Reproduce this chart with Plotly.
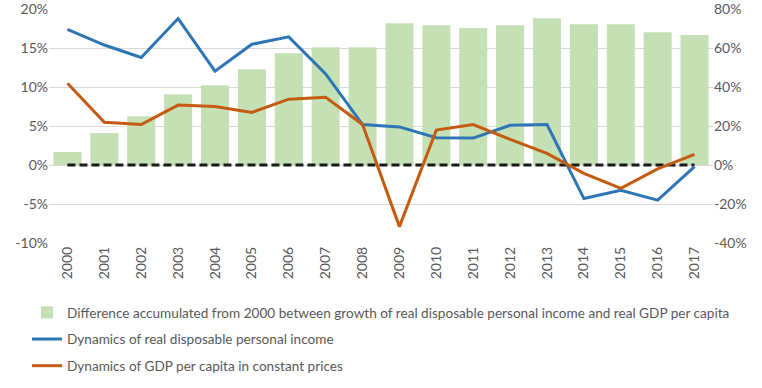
import plotly.graph_objects as go

years = [str(y) for y in range(2000, 2018)]
diff_accum = [6.7, 16.4, 25.1, 36.4, 41.0, 49.2, 57.4, 60.5, 60.5, 72.8, 71.8, 70.3, 71.8, 75.4, 72.3, 72.3, 68.2, 66.7]
income_dyn = [17.4, 15.4, 13.8, 18.8, 12.05, 15.5, 16.45, 11.7, 5.2, 4.9, 3.5, 3.46, 5.1, 5.2, -4.3, -3.25, -4.5, -0.2]
gdp_dyn = [10.5, 5.5, 5.2, 7.7, 7.5, 6.75, 8.45, 8.7, 5.2, -7.9, 4.5, 5.2, 3.3, 1.5, -1.07, -3.0, -0.5, 1.37]
zero_line = [0] * len(years)

left_ticks = [-10, -5, 0, 5, 10, 15, 20]
right_ticks = [-40, -20, 0, 20, 40, 60, 80]

FONT = "Lato"
TXT = "#595959"

fig = go.Figure()
fig.add_trace(go.Bar(
    x=years, y=diff_accum, yaxis="y", legendgroup="a",
    name="Difference accumulated from 2000 between growth of real disposable personal income and real GDP per capita",
    marker=dict(color="#c5e0b4", line=dict(width=0)),
))
fig.add_trace(go.Scatter(
    x=years, y=zero_line, yaxis="y2", mode="lines", showlegend=False,
    line=dict(color="#1a1a1a", width=3, dash="8px,4px"), hoverinfo="skip",
))
fig.add_trace(go.Scatter(
    x=years, y=income_dyn, yaxis="y2", mode="lines", legendgroup="b",
    name="Dynamics of real disposable personal income",
    line=dict(color="#2e75b6", width=3),
))
fig.add_trace(go.Scatter(
    x=years, y=gdp_dyn, yaxis="y2", mode="lines", legendgroup="c",
    name="Dynamics of GDP per capita in constant prices",
    line=dict(color="#c55a11", width=3),
))

fig.update_layout(
    width=762, height=388,
    margin=dict(l=49, r=49, t=9, b=145, autoexpand=False),
    paper_bgcolor="white", plot_bgcolor="white",
    font=dict(family=FONT, size=14, color=TXT),
    bargap=0.24,
    xaxis=dict(
        type="category", tickangle=-90, showgrid=False, showline=False,
        ticks="", tickfont=dict(size=14, color=TXT), automargin=False,
    ),
    yaxis=dict(
        side="right", range=[-40, 80.1], tickvals=right_ticks,
        ticktext=[f"{v}%" for v in right_ticks],
        showgrid=True, gridcolor="#d9d9d9", gridwidth=1,
        zeroline=False, showline=False, ticks="", automargin=False,
        tickfont=dict(size=14, color=TXT),
    ),
    yaxis2=dict(
        side="left", overlaying="y", range=[-10, 20.025], tickvals=left_ticks,
        ticktext=[f"{v}%" for v in left_ticks],
        showgrid=False, zeroline=False, showline=False, ticks="", automargin=False,
        tickfont=dict(size=14, color=TXT),
    ),
    legend=dict(
        orientation="v", xref="container", x=27 / 762, xanchor="left",
        yref="container", y=1 - 297 / 388, yanchor="top",
        font=dict(size=13.6, color=TXT), traceorder="grouped",
        tracegroupgap=6, bgcolor="rgba(0,0,0,0)", itemwidth=30,
    ),
    showlegend=True,
)

fig.write_html(
    "out.html",
    config={"displayModeBar": False},
    post_script="document.body.style.margin='0';",
)
